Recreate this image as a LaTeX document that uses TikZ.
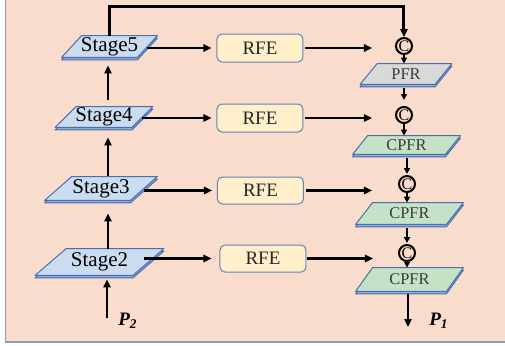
\documentclass[tikz,border=0pt]{standalone}
\usepackage{fontspec}
\setmainfont{Liberation Serif}
\usetikzlibrary{arrows.meta}
\pgfdeclarelayer{bg}
\pgfdeclarelayer{plates}
\pgfsetlayers{bg,plates,main}
\definecolor{bgc}{HTML}{FADCCC}
\definecolor{framec}{HTML}{8A9CBA}
\definecolor{edgec}{HTML}{4A6FAE}
\definecolor{stagec}{HTML}{CBDBF0}
\definecolor{slabc}{HTML}{8FA9D8}
\definecolor{rfec}{HTML}{FFEFCB}
\definecolor{rfeedge}{HTML}{6283B8}
\definecolor{pfrc}{HTML}{D9D9D9}
\definecolor{cpfrc}{HTML}{C4E2C6}
\definecolor{txtgray}{HTML}{3A3A3A}
\tikzset{
  stagebox/.style={inner sep=0pt, font=\fontsize{10.5}{12}\selectfont},
  smallbox/.style={inner sep=0pt, font=\fontsize{8.2}{10}\selectfont, text=txtgray},
  rfebox/.style={draw=rfeedge, line width=0.5pt, fill=rfec, rounded corners=2.5pt,
    minimum width=43pt, minimum height=14pt, inner sep=0pt,
    font=\fontsize{9.5}{11}\selectfont, text=black!85},
  catnode/.style={circle, draw=black, line width=1pt, minimum size=8pt, inner sep=0pt,
    font=\fontsize{8}{8}\selectfont},
  plateedge/.style={draw=edgec, line width=0.5pt, line join=round},
  arr/.style={-{Triangle[length=4pt,width=3.6pt]}, line width=1.3pt},
  sarr/.style={-{Triangle[length=3pt,width=3pt]}, line width=0.9pt},
  plabel/.style={inner sep=0pt, font=\fontsize{9.5}{11}\selectfont\bfseries\itshape},
}
\newcommand\plate[4]{%
  \begin{pgfonlayer}{plates}
  \path[plateedge, fill=#4]
    ([shift={(#2/2,2.5)}]#1.north west) -- ([shift={(#2/2,2.5)}]#1.north east)
    -- ([shift={(-#2/2,2.5)}]#1.south east) -- ([shift={(-#2/2,2.5)}]#1.south west) -- cycle;
  \path[plateedge, fill=#3]
    ([shift={(#2/2,0)}]#1.north west) -- ([shift={(#2/2,0)}]#1.north east)
    -- ([shift={(-#2/2,0)}]#1.south east) -- ([shift={(-#2/2,0)}]#1.south west) -- cycle;
  \end{pgfonlayer}}
\begin{document}
\begin{tikzpicture}[x=0.5pt, y=-0.5pt]
\useasboundingbox (0,0) rectangle (505,345);
\begin{pgfonlayer}{bg}
  \fill[bgc] (5.5,0) rectangle (505,342);
  \draw[framec, line width=0.8pt] (5.5,0) -- (5.5,342) -- (505,342);
\end{pgfonlayer}

% backbone stages
\node[stagebox, minimum width=37.5pt, minimum height=10.5pt] (s5) at (109.5,46.5) {Stage5};
\node[stagebox, minimum width=38pt, minimum height=10pt] (s4) at (104,117) {Stage4};
\node[stagebox, minimum width=42.5pt, minimum height=11.5pt] (s3) at (101,188.5) {Stage3};
\node[stagebox, minimum width=48.5pt, minimum height=13pt] (s2) at (99.5,262) {Stage2};
\plate{s5}{20}{stagec}{slabc}
\plate{s4}{21}{stagec}{slabc}
\plate{s3}{27}{stagec}{slabc}
\plate{s2}{31}{stagec}{slabc}

% RFE boxes
\node[rfebox] (r5) at (260,48) {RFE};
\node[rfebox] (r4) at (260,118) {RFE};
\node[rfebox, minimum height=13.5pt] (r3) at (260.5,190.5) {RFE};
\node[rfebox, minimum height=13.5pt] (r2) at (263,258.5) {RFE};

% concat nodes
\node[catnode] (c1) at (404,46) {C};
\node[catnode] (c2) at (404,115) {C};
\node[catnode] (c3) at (407,184) {C};
\node[catnode] (c4) at (407,253) {C};

% refinement plates
\node[smallbox, minimum width=37pt, minimum height=10pt] (pf) at (406,74) {PFR};
\node[smallbox, minimum width=46pt, minimum height=9pt] (cp1) at (406.5,145) {CPFR};
\node[smallbox, minimum width=45pt, minimum height=10.5pt] (cp2) at (409.5,213.5) {CPFR};
\node[smallbox, minimum width=45pt, minimum height=11.5pt] (cp3) at (409.5,279.5) {CPFR};
\plate{pf}{17}{pfrc}{slabc}
\plate{cp1}{15}{cpfrc}{slabc}
\plate{cp2}{17}{cpfrc}{slabc}
\plate{cp3}{17}{cpfrc}{slabc}

% labels and free ends
\coordinate (col) at (108,0);
\coordinate (p2in) at (107,318);
\coordinate (p1out) at (408,327);
\node[plabel] (p2) at (128,321) {P\textsubscript{2}};
\node[plabel] (p1) at (439,321) {P\textsubscript{1}};

% backbone arrows
\draw[arr, shorten >=2pt] (p2in) -- (p2in |- s2.south);
\draw[arr, shorten >=6.5pt] (s2.north -| col) -- (s3.south -| col);
\draw[arr, shorten <=0.5pt, shorten >=5pt] (s3.north -| col) -- (s4.south -| col);
\draw[arr, shorten <=3.5pt, shorten >=4pt] (s4.north -| col) -- (s5.south -| col);
\draw[arr, line width=1.5pt] (s5.north -| 110,0) -- ++(0,-29) -| (c1.north);

% stage -> RFE
\draw[arr, shorten >=2.5pt] (r5.west -| s5.east) -- (r5.west);
\draw[arr, shorten >=2.5pt] (r4.west -| s4.east) -- (r4.west);
\draw[arr, shorten >=2.5pt] (r3.west -| s3.east) -- (r3.west);
\draw[arr, shorten >=4pt] (r2.west -| 144,0) -- (r2.west);

% RFE -> concat
\draw[arr, shorten <=1pt, shorten >=11.5pt] (r5.east) -- (r5.east -| c1.west);
\draw[arr, shorten <=1pt, shorten >=11.5pt] (r4.east) -- (r4.east -| c2.west);
\draw[arr, shorten <=1pt, shorten >=13pt] (r3.east) -- (r3.east -| c3.west);
\draw[arr, shorten <=0.5pt, shorten >=12.5pt] (r2.east) -- (r2.east -| c4.west);

% refinement chain
\draw[sarr] (c1.south) -- (c1 |- pf.north);
\draw[sarr, shorten <=2pt, shorten >=3pt] (c2 |- pf.south) -- (c2.north);
\draw[sarr] (c2.south) -- (c2 |- cp1.north);
\draw[sarr, shorten <=2pt, shorten >=0.5pt] (c3 |- cp1.south) -- (c3.north);
\draw[sarr] (c3.south) -- (c3 |- cp2.north);
\draw[sarr, shorten <=2pt, shorten >=0.5pt] (c4 |- cp2.south) -- (c4.north);
\draw[sarr] (c4.south) -- (c4 |- cp3.north);
\draw[arr, line width=1.2pt, shorten <=1.5pt] (p1out |- cp3.south) -- (p1out);
\end{tikzpicture}
\end{document}
